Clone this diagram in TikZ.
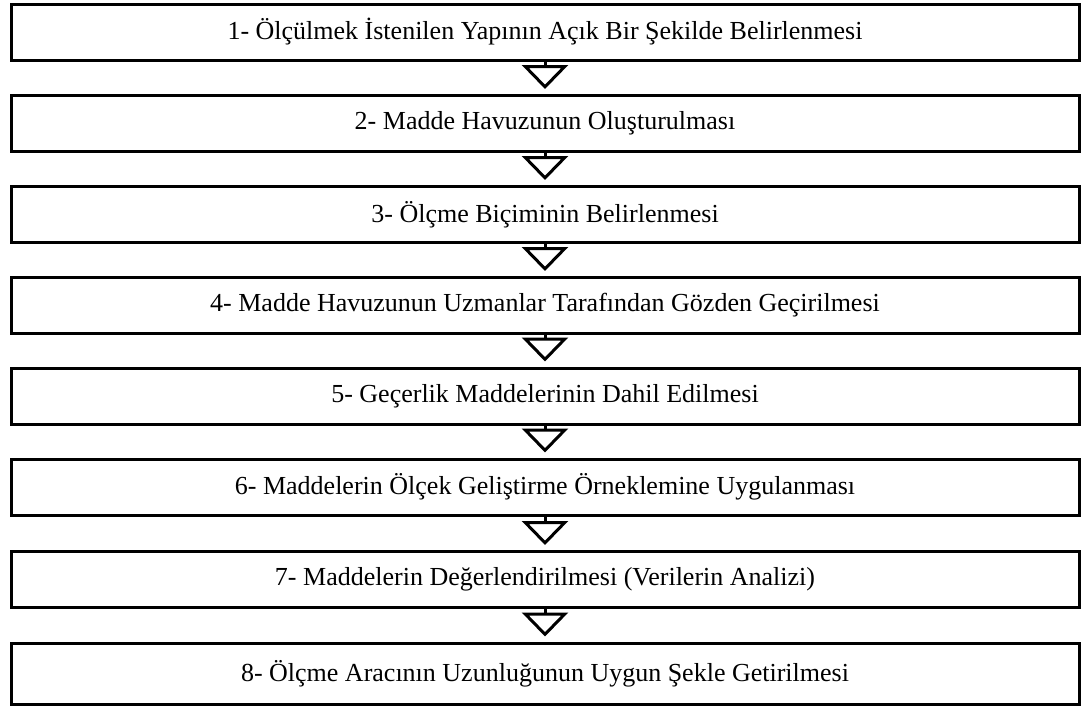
\documentclass[tikz,border=0pt]{standalone}
\usepackage{fontspec}
\setmainfont{Liberation Serif}
\usepackage{tikz}
\usetikzlibrary{arrows.meta, positioning}

\begin{document}
\begin{tikzpicture}[
            x=1pt, y=-1pt,
            stepbox/.style={rectangle, draw, line width=3pt, minimum width=1068pt,
                minimum height=56pt, inner sep=0pt, font=\fontsize{26}{30}\selectfont},
            flow/.style={line width=3pt, -{Triangle[open, length=24pt, width=46pt]}, shorten >=5pt}
        ]

        \useasboundingbox (0,0) rectangle (1081,707);

        % Nodes (one box per step, top to bottom)
        \node[stepbox] (S1) at (545, 32) {1- Ölçülmek İstenilen Yapının Açık Bir Şekilde Belirlenmesi};
        \node[stepbox] (S2) at (545, 123.5) {2- Madde Havuzunun Oluşturulması};
        \node[stepbox] (S3) at (545, 214.5) {3- Ölçme Biçiminin Belirlenmesi};
        \node[stepbox] (S4) at (545, 305.5) {4- Madde Havuzunun Uzmanlar Tarafından Gözden Geçirilmesi};
        \node[stepbox] (S5) at (545, 396) {5- Geçerlik Maddelerinin Dahil Edilmesi};
        \node[stepbox] (S6) at (545, 487) {6- Maddelerin Ölçek Geliştirme Örneklemine Uygulanması};
        \node[stepbox] (S7) at (545, 579.5) {7- Maddelerin Değerlendirilmesi (Verilerin Analizi)};
        \node[stepbox, minimum height=61pt] (S8) at (545, 673.5) {8- Ölçme Aracının Uzunluğunun Uygun Şekle Getirilmesi};

        % Edges
        \draw[flow] (S1) -- (S2);
        \draw[flow] (S2) -- (S3);
        \draw[flow] (S3) -- (S4);
        \draw[flow] (S4) -- (S5);
        \draw[flow] (S5) -- (S6);
        \draw[flow] (S6) -- (S7);
        \draw[flow] (S7) -- (S8);

    \end{tikzpicture}
\end{document}
